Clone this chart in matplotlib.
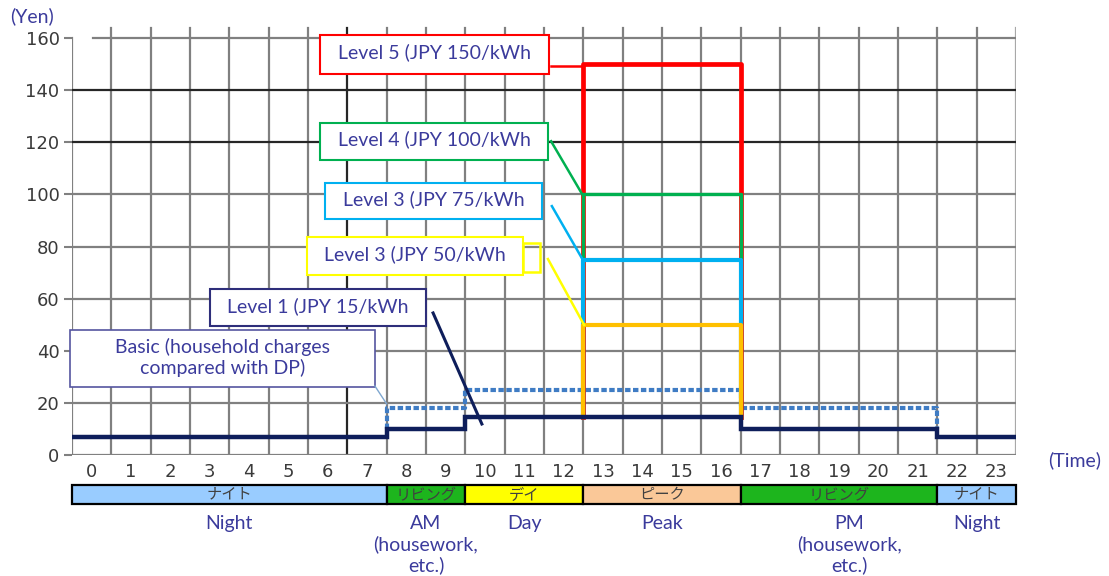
import matplotlib.pyplot as plt
from matplotlib.patches import Rectangle

plt.rcParams['font.family'] = ['DejaVu Sans', 'Noto Sans CJK JP']

# time-of-use periods (hour edges)
period_edges = [0, 8, 10, 13, 17, 22, 24]
period_jp = ['ナイト', 'リビング', 'デイ', 'ピーク', 'リビング', 'ナイト']
period_en = ['Night', 'AM\n(housework,\netc.)', 'Day', 'Peak', 'PM\n(housework,\netc.)', 'Night']
period_colors = ['#99CCFF', '#1DB51D', '#FFFF00', '#FAC898', '#1DB51D', '#99CCFF']

# prices (Yen)
base_price = [7, 10, 14.5, 14.5, 10, 7]
basic_edges = [8, 10, 17, 22]
basic_price = [18, 25, 18]
peak_window = [13, 17]
level_price = [150, 100, 75, 50]
level_colors = ['#FF0000', '#00B050', '#00B0F0', '#FFC000']
level_widths = [3.4, 2.4, 3.0, 3.0]
level_labels = ['Level 5 (JPY 150/kWh', 'Level 4 (JPY 100/kWh',
                'Level 3 (JPY 75/kWh', 'Level 3 (JPY 50/kWh']
box_colors = ['#FF0000', '#00B050', '#00B0F0', '#FFFF00']
level1_label = 'Level 1 (JPY 15/kWh'
basic_label = 'Basic (household charges\ncompared with DP)'

hours = list(range(24))
yticks = [0, 20, 40, 60, 80, 100, 120, 140, 160]

txt_color = '#3B3B9C'
grid_color = '#808080'
txt_font = ['Lato', 'DejaVu Sans']
fs = 14

fig = plt.figure(figsize=(11.09, 5.76), dpi=100)
ax = fig.add_axes([72 / 1109, 121 / 576, 944 / 1109, 430 / 576])
ax.set_xlim(0, 24)
ax.set_ylim(0, 165)
for s in ax.spines.values():
    s.set_visible(False)

# grid
for x in range(25):
    c = '#262626' if x == 7 else ('#A8A8A8' if x == 24 else grid_color)
    top = 160 if x == 0 else 164
    ax.plot([x, x], [0, top], color=c, lw=1.6, zorder=1)
for y in yticks:
    c = '#262626' if y in (120, 140) else grid_color
    x0 = 0.53 if y == 160 else 0
    ax.plot([x0, 24], [y, y], color=c, lw=1.6, zorder=1)

ax.set_yticks(yticks)
ax.set_xticks([h + 0.5 for h in hours])
ax.set_xticklabels([str(h) for h in hours])
ax.tick_params(axis='y', length=6, width=1.5, color=grid_color, pad=3,
               labelsize=13, labelcolor='#3A3A3A')
ax.tick_params(axis='x', length=0, pad=6, labelsize=13, labelcolor='#3A3A3A')

# basic (dotted) line
bx = [basic_edges[0]]
by = [base_price[1]]
for i, v in enumerate(basic_price):
    bx += [basic_edges[i], basic_edges[i + 1]]
    by += [v, v]
bx.append(basic_edges[-1])
by.append(base_price[4])
ax.plot(bx, by, color='#3F7CC4', lw=3.0, linestyle=(0, (1.3, 0.6)), zorder=3)

# peak levels
for lv, c, w in zip(level_price, level_colors, level_widths):
    ax.plot([peak_window[0], peak_window[0], peak_window[1], peak_window[1]],
            [base_price[3], lv, lv, base_price[3]], color=c, lw=w, zorder=4)

# base (solid) line
ax.stairs(base_price, period_edges, baseline=None, color='#0E1E5B', lw=3.2, zorder=5)

# annotation boxes
boxes = [(6.31, 12.13, 146.1, 161.1), (6.31, 12.10, 113.2, 127.3),
         (6.43, 11.95, 90.5, 104.3), (5.98, 11.47, 69.0, 83.6)]
connectors = [((12.18, 149.2), (12.97, 149.2)), ((12.18, 120.4), (12.97, 100.1)),
              ((12.20, 95.5), (12.96, 75.6)), ((12.10, 75.2), (13.02, 49.9))]
for (x0, x1, y0, y1), lab, bc, (p, q) in zip(boxes, level_labels, box_colors, connectors):
    ax.add_patch(Rectangle((x0, y0), x1 - x0, y1 - y0, facecolor='white',
                           edgecolor=bc, lw=1.5, zorder=6, clip_on=False))
    ax.text((x0 + x1) / 2, (y0 + y1) / 2 + 0.8, lab, ha='center', va='center',
            fontsize=fs, color=txt_color, family=txt_font, zorder=7)
    ax.plot([p[0], q[0]], [p[1], q[1]], color=bc, lw=1.8, zorder=6)
# small yellow tab
ax.add_patch(Rectangle((11.47, 70.2), 0.43, 11.1, facecolor='none',
                       edgecolor='#FFFF00', lw=1.8, zorder=6))

# level 1 box
ax.add_patch(Rectangle((3.51, 49.5), 5.49, 14.2, facecolor='white',
                       edgecolor='#2E2E7A', lw=1.5, zorder=6))
ax.text(6.255, 57.2, level1_label, ha='center', va='center', fontsize=fs,
        color=txt_color, family=txt_font, zorder=7)
ax.plot([9.18, 10.42], [54.5, 11.9], color='#0E1E5B', lw=2.2, zorder=6)

# basic box
ax.add_patch(Rectangle((-0.05, 26.1), 7.75, 21.8, facecolor='white',
                       edgecolor='#5555A0', lw=1.2, zorder=6, clip_on=False))
ax.text(3.82, 37.4, basic_label, ha='center', va='center', fontsize=fs,
        color=txt_color, family=txt_font, linespacing=1.2, zorder=7)
ax.plot([7.70, 8.0], [26.5, 19.6], color='#7FA7D0', lw=1.0, zorder=6)

# period band below axis
for i in range(len(period_jp)):
    a, b = period_edges[i], period_edges[i + 1]
    ax.add_patch(Rectangle((a, -18.8), b - a, 7.3, facecolor=period_colors[i],
                           edgecolor='black', lw=1.6, clip_on=False))
    ax.text((a + b) / 2, -15.1, period_jp[i], ha='center', va='center', fontsize=11,
            color='#404040', family=['Noto Sans CJK JP'], clip_on=False)
    cx = (a + b) / 2 + (0.26 if i == 4 else 0)
    ax.text(cx, -23.0, period_en[i], ha='center', va='top', fontsize=fs,
            color=txt_color, family=txt_font, linespacing=1.22, clip_on=False)

fig.text(10 / 1109, 1 - 16 / 576, '(Yen)', ha='left', va='center', fontsize=fs,
         color=txt_color, family=txt_font)
fig.text(1048 / 1109, 1 - 460 / 576, '(Time)', ha='left', va='center', fontsize=fs,
         color=txt_color, family=txt_font)

fig.savefig('out.png', dpi=100)
